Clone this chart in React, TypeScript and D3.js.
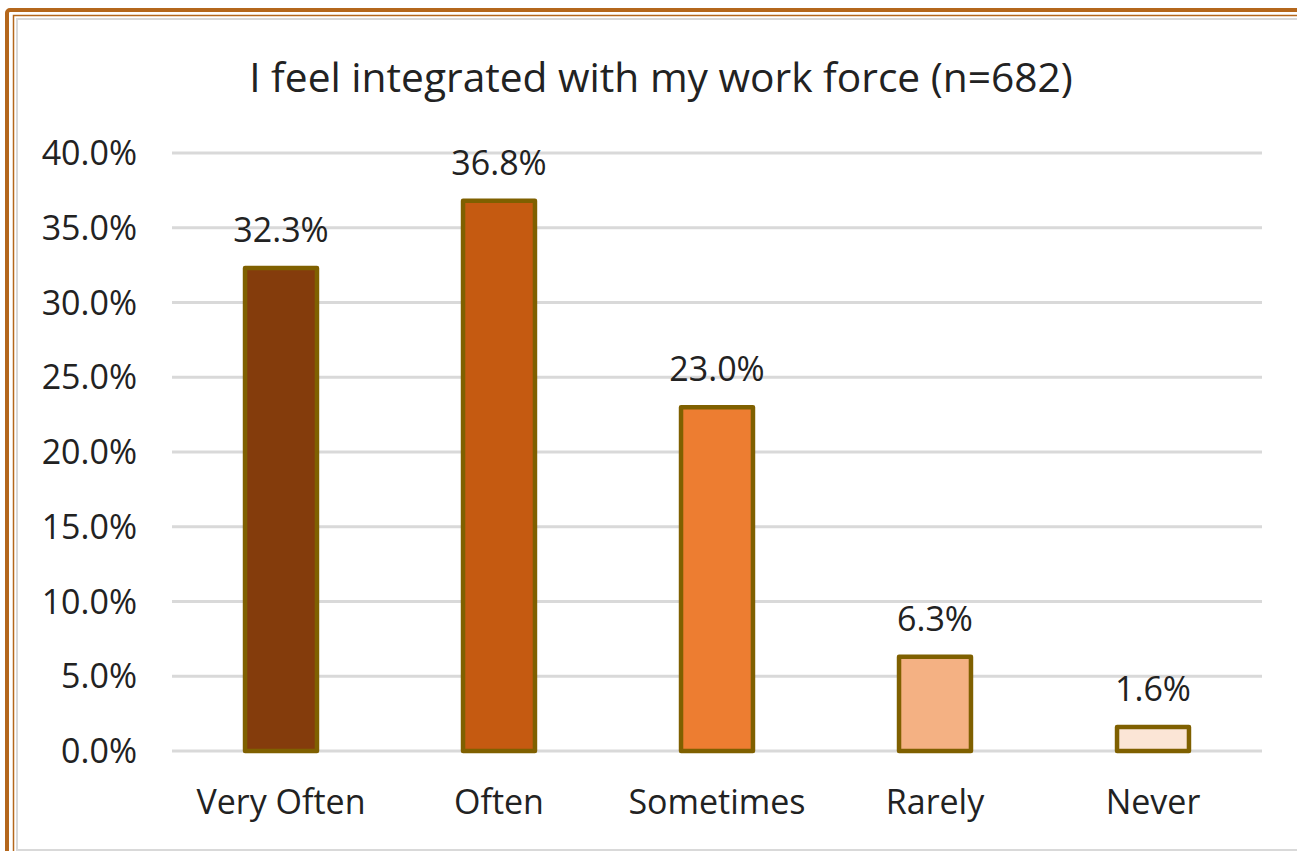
import React from "react";
import * as d3 from "d3";

const categories = ["Very Often", "Often", "Sometimes", "Rarely", "Never"];
const values = [32.3, 36.8, 23.0, 6.3, 1.6];
const barColors = ["#843C0C", "#C55A11", "#ED7D31", "#F4B183", "#FBE5D6"];
const yTicks = [0, 5, 10, 15, 20, 25, 30, 35, 40];
const title = "I feel integrated with my work force (n=682)";

const W = 1297;
const H = 851;
const FONT = "'Open Sans', 'Liberation Sans', sans-serif";

export default function App() {
  const left = 172, right = 1262, top = 153, bottom = 751;
  const x = d3.scaleBand().domain(categories).range([left, right]).paddingInner(0.67).paddingOuter(0.335);
  const y = d3.scaleLinear().domain([0, 40]).range([bottom, top]);
  const fmt = (v: number) => d3.format(".1f")(v) + "%";

  return (
    <svg width={W} height={H} style={{ position: "absolute", left: 0, top: 0, background: "#fff" }}>
      {/* frame */}
      <rect x={7} y={10} width={W + 20} height={H + 20} fill="none" stroke="#B4671C" strokeWidth={4} rx={3} />
      <rect x={13.5} y={15.5} width={W + 20} height={H + 20} fill="none" stroke="#B4671C" strokeWidth={1.5} />
      <rect x={17} y={19} width={W + 20} height={H - 20} fill="none" stroke="#D9D9D9" strokeWidth={2} />
      <text x={661} y={92} textAnchor="middle" fontFamily={FONT} fontSize={40.7} fill="#222">{title}</text>
      {yTicks.map((t) => (
        <g key={t}>
          <line x1={left} x2={right} y1={y(t)} y2={y(t)} stroke="#D9D9D9" strokeWidth={3} />
          <text x={137} y={y(t) + 12} textAnchor="end" fontFamily={FONT} fontSize={34} fill="#222">{fmt(t)}</text>
        </g>
      ))}
      {categories.map((c, i) => {
        const bx = x(c)!;
        const bw = x.bandwidth();
        const by = y(values[i]);
        return (
          <g key={c}>
            <rect x={bx} y={by} width={bw} height={bottom - by} fill={barColors[i]} stroke="#7F6000" strokeWidth={4.5} strokeLinejoin="round" />
            <text x={bx + bw / 2} y={by - 26} textAnchor="middle" fontFamily={FONT} fontSize={34} fill="#222">{fmt(values[i])}</text>
            <text x={bx + bw / 2} y={814} textAnchor="middle" fontFamily={FONT} fontSize={34} fill="#222">{c}</text>
          </g>
        );
      })}
    </svg>
  );
}
